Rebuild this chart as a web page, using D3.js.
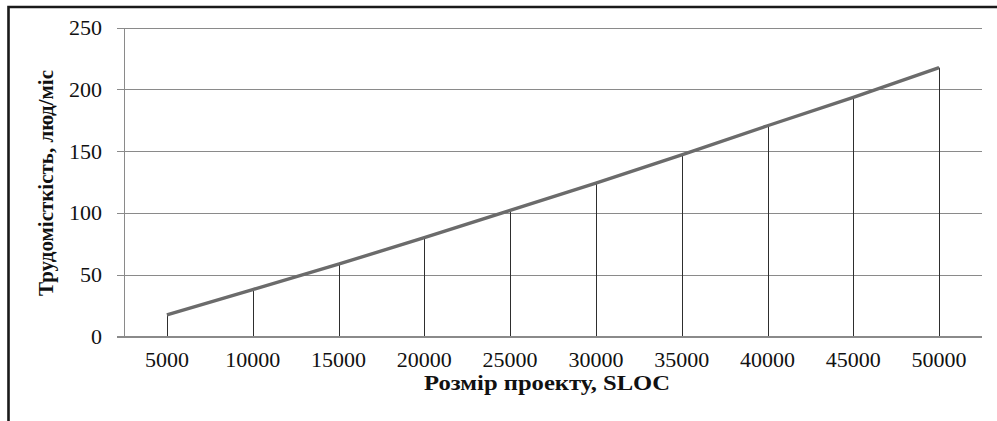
<!DOCTYPE html>
<html>
<head>
<meta charset="utf-8">
<script src="https://cdn.jsdelivr.net/npm/d3@7/dist/d3.min.js"></script>
<style>
  html, body { margin: 0; padding: 0; background: #fff; }
  svg { display: block; }
  text { font-family: "Liberation Serif", "Times New Roman", serif; fill: #111; }
</style>
</head>
<body>
<svg id="chart" width="997" height="421"></svg>
<script>
// Project size (SLOC) and estimated effort (person-months)
const sizes = ["5000", "10000", "15000", "20000", "25000", "30000", "35000", "40000", "45000", "50000"];
const effort = [17.5, 38, 58.5, 80, 102, 124, 147, 170.5, 193.5, 217.5];
const yTicks = [0, 50, 100, 150, 200, 250];

const xTitle = "Розмір проекту, SLOC";
const yTitle = "Трудомісткість, люд/міс";

const W = 997, H = 421;
const plot = { left: 124, right: 982, top: 27.5, bottom: 336.5 };

const svg = d3.select("#chart");

// outer frame (only left and top edges fall inside the view)
svg.append("path")
  .attr("d", `M8.5,${H} V7 H${W}`)
  .attr("fill", "none")
  .attr("stroke", "#1a1a1a")
  .attr("stroke-width", 2.6);

const x = d3.scaleBand().domain(sizes).range([plot.left, plot.right]).padding(0);
const y = d3.scaleLinear().domain([0, 250]).range([plot.bottom, plot.top]);

// horizontal gridlines with short outer ticks, drawn via a left axis
const yAxis = d3.axisLeft(y)
  .tickValues(yTicks)
  .tickSize(-(plot.right - plot.left))
  .tickSizeOuter(0)
  .tickFormat("");

const gy = svg.append("g")
  .attr("transform", `translate(${plot.left},0)`)
  .call(yAxis);
gy.select(".domain").remove();
gy.selectAll(".tick line")
  .attr("x1", -7)
  .attr("stroke", "#8a8a8a")
  .attr("stroke-width", 1)
  .attr("shape-rendering", "crispEdges");

// vertical value axis line
svg.append("line")
  .attr("x1", plot.left + 0.5).attr("x2", plot.left + 0.5)
  .attr("y1", y(250)).attr("y2", y(0))
  .attr("stroke", "#8a8a8a")
  .attr("stroke-width", 1)
  .attr("shape-rendering", "crispEdges");

// y tick labels
svg.append("g").selectAll("text")
  .data(yTicks)
  .join("text")
  .attr("x", 102)
  .attr("y", d => y(d))
  .attr("dy", "0.34em")
  .attr("text-anchor", "end")
  .attr("font-size", 22)
  .text(d => d);

// x category labels
const xAxis = d3.axisBottom(x).tickSize(0).tickSizeOuter(0);
const gx = svg.append("g")
  .attr("transform", `translate(0,${plot.bottom})`)
  .call(xAxis);
gx.select(".domain").remove();
gx.selectAll(".tick text")
  .attr("y", 0)
  .attr("dy", 0)
  .attr("transform", "translate(0,30.5)")
  .attr("font-size", 22)
  .attr("font-family", "Liberation Serif, Times New Roman, serif")
  .attr("fill", "#111");

const cx = d => x(d) + x.bandwidth() / 2;

// drop lines from each point down to the category axis
svg.append("g").selectAll("line")
  .data(sizes)
  .join("line")
  .attr("x1", (d) => Math.round(cx(d)) + 0.5)
  .attr("x2", (d) => Math.round(cx(d)) + 0.5)
  .attr("y1", (d, i) => y(effort[i]))
  .attr("y2", y(0))
  .attr("stroke", "#2e2e2e")
  .attr("stroke-width", 1);

// effort line
const line = d3.line()
  .x((d, i) => cx(sizes[i]))
  .y(d => y(d));

svg.append("path")
  .datum(effort)
  .attr("d", line)
  .attr("fill", "none")
  .attr("stroke", "#6b6b6b")
  .attr("stroke-width", 3.4)
  .attr("stroke-linejoin", "round");

// horizontal category axis line
svg.append("line")
  .attr("x1", plot.left - 7).attr("x2", plot.right)
  .attr("y1", y(0)).attr("y2", y(0))
  .attr("stroke", "#8a8a8a")
  .attr("stroke-width", 1)
  .attr("shape-rendering", "crispEdges");

// axis titles
svg.append("text")
  .attr("x", 547)
  .attr("y", 389.5)
  .attr("text-anchor", "middle")
  .attr("font-size", 21)
  .attr("font-weight", "bold")
  .attr("textLength", 246)
  .attr("lengthAdjust", "spacingAndGlyphs")
  .text(xTitle);

svg.append("text")
  .attr("transform", `translate(53,${(plot.top + plot.bottom) / 2 + 1}) rotate(-90)`)
  .attr("text-anchor", "middle")
  .attr("font-size", 20.5)
  .attr("font-weight", "bold")
  .attr("textLength", 226)
  .attr("lengthAdjust", "spacingAndGlyphs")
  .text(yTitle);
</script>
</body>
</html>
